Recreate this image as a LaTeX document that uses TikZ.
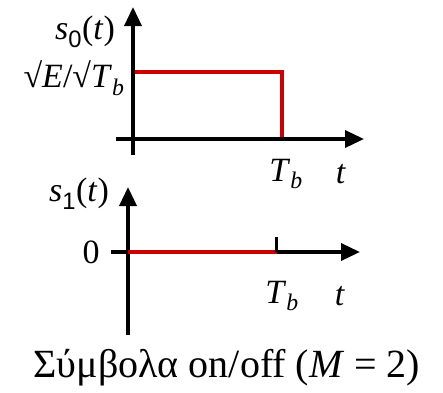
\documentclass[tikz,border=0pt]{standalone}
\usepackage{fontspec}
\setmainfont{Liberation Serif}
\newfontfamily\subfont{Liberation Sans}
\usetikzlibrary{arrows.meta, positioning}
\definecolor{pulsered}{RGB}{204,0,0}
\tikzset{
    axis/.style={line width=3.5pt, -{Triangle[length=19pt,width=17pt]}},
    pulse/.style={line width=3.5pt, pulsered},
    lbl/.style={inner sep=0pt, font=\fontsize{34}{38}\selectfont},
    biglbl/.style={inner sep=0pt, font=\fontsize{34}{38}\selectfont},
}

\begin{document}
\begin{tikzpicture}[x=1pt, y=-1pt]
    \useasboundingbox (0,0) rectangle (443,392);

    % Top signal s0(t): pulse of height sqrt(E/T_b)
    \coordinate (o0) at (133,139);
    \coordinate (tb0) at (282,72);
    \draw[pulse] (o0) rectangle (tb0);

    % Axes
    \draw[axis] (133,155) -- (133,7);
    \draw[axis] (116,139) -- (364,139);

    % Labels
    \node[lbl] (s0) at (85,32) {\textit{s}\textsubscript{\subfont 0}(\textit{t})};
    \node[lbl] (amp) at (74,78) {√\textit{E}/√\textit{T}\textsubscript{\textit{b}}};
    \node[biglbl] (Tb0) at (286,174) {\textit{T}\textsubscript{\textit{b}}};
    \node[biglbl] (t0) at (341,174) {\textit{t}};

    % Bottom signal s1(t): zero
    \coordinate (o1) at (128,252);
    \coordinate (tb1) at (277,252);
    \draw[axis] (128,335) -- (128,187);
    \draw[axis] (111,252) -- (360,252);
    \draw[pulse] (o1) -- (tb1);
    \draw[line width=3pt] (276,237) -- (276,252); % tick at T_b

    \node[lbl] (s1) at (79,194) {\textit{s}\textsubscript{\subfont 1}(\textit{t})};
    \node[lbl] (zero) at (91,252) {0};
    \node[biglbl] (Tb1) at (282,296) {\textit{T}\textsubscript{\textit{b}}};
    \node[biglbl] (t1) at (340,296) {\textit{t}};

    % Caption
    \node[inner sep=0pt, font=\fontsize{40}{44}\selectfont] (cap) at (227,368) {Σύμβολα on/off (\textit{M} = 2)};
\end{tikzpicture}
\end{document}
